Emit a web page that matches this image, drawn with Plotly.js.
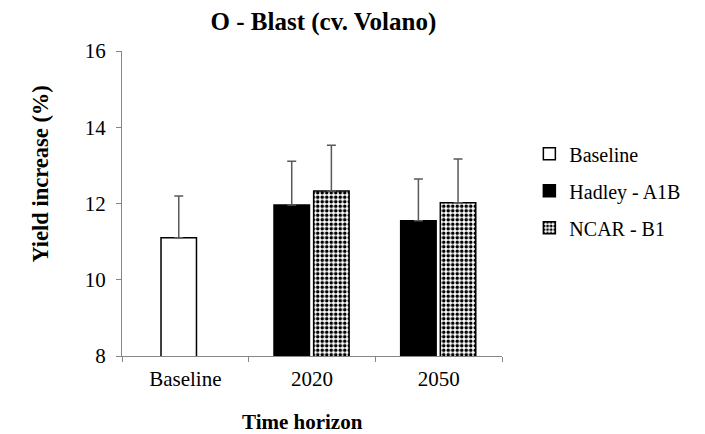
<!DOCTYPE html>
<html>
<head>
<meta charset="utf-8">
<script src="https://cdn.plot.ly/plotly-3.0.1.min.js"></script>
<style>html,body{margin:0;padding:0;background:#fff;}#chart{width:705px;height:434px;}</style>
</head>
<body>
<div id="chart"></div>
<script>
var categories = ['Baseline', '2020', '2050'];
var baselineX = ['Baseline'];
var baselineY = [11.1];
var baselineErr = [1.1];
var scenarioX = ['2020', '2050'];
var hadleyY = [11.96, 11.55];
var hadleyErr = [1.15, 1.09];
var ncarY = [12.33, 12.02];
var ncarErr = [1.2, 1.15];

var serif = "'Liberation Serif', 'Times New Roman', serif";
function err(arr) {
  return {type: 'data', symmetric: false, array: arr, arrayminus: arr.map(function(){return 0;}),
          color: '#595959', thickness: 1.5, width: 4.5};
}
var traces = [
  {type: 'bar', name: 'Baseline', x: baselineX, y: baselineY, width: 0.28, offset: -0.192,
   marker: {color: '#ffffff', line: {color: '#000000', width: 1.5}},
   error_y: err(baselineErr), legendgroup: 'a'},
  {type: 'bar', name: 'Hadley - A1B', x: scenarioX, y: hadleyY, width: 0.28, offset: -0.30,
   marker: {color: '#000000', line: {color: '#000000', width: 1.5}},
   error_y: err(hadleyErr), legendgroup: 'b'},
  {type: 'bar', name: 'NCAR - B1', x: scenarioX, y: ncarY, width: 0.28, offset: 0.013,
   marker: {color: '#ffffff', line: {color: '#000000', width: 1.5},
            pattern: {shape: '.', size: 4.5, solidity: 0.5, fgcolor: '#000000', bgcolor: '#ffffff', fillmode: 'replace'}},
   error_y: err(ncarErr), legendgroup: 'c'}
];
var layout = {
  width: 705, height: 434,
  margin: {l: 122, r: 203, t: 51, b: 78},
  paper_bgcolor: '#ffffff', plot_bgcolor: '#ffffff',
  font: {family: serif, size: 20, color: '#000000'},
  title: {text: '<b>O - Blast (cv. Volano)</b>', font: {family: serif, size: 25, color: '#000000'},
          x: 0.53, xref: 'paper', xanchor: 'center', y: 0.951, yref: 'container', yanchor: 'middle'},
  showlegend: true,
  legend: {x: 1.072, xanchor: 'left', y: 0.727, yanchor: 'top', font: {family: serif, size: 20, color: '#000000'},
           tracegroupgap: 8, bgcolor: 'rgba(0,0,0,0)', traceorder: 'grouped'},
  xaxis: {type: 'category', categoryorder: 'array', categoryarray: categories, range: [-0.5, 2.5],
          showline: true, linecolor: '#868686', linewidth: 1, ticks: 'outside', tickson: 'boundaries',
          ticklen: 5, tickcolor: '#868686', showgrid: false, zeroline: false, ticklabelstandoff: 4,
          tickfont: {family: serif, size: 21, color: '#000000'}},
  yaxis: {range: [8, 16], tickvals: [8, 10, 12, 14, 16], showline: true, linecolor: '#868686', linewidth: 1,
          ticks: 'outside', ticklen: 5, tickcolor: '#868686', showgrid: false, zeroline: false, ticklabelstandoff: 6,
          tickfont: {family: serif, size: 21, color: '#000000'}},
  annotations: [
    {text: '<b>Time horizon</b>', xref: 'paper', yref: 'paper', x: 0.474, y: -0.218,
     xanchor: 'center', yanchor: 'middle', showarrow: false, font: {family: serif, size: 21, color: '#000000'}},
    {text: '<b>Yield increase (%)</b>', xref: 'paper', yref: 'paper', x: -0.214, y: 0.597, textangle: -90,
     xanchor: 'center', yanchor: 'middle', showarrow: false, font: {family: serif, size: 22.5, color: '#000000'}}
  ],
  bargap: 0
};
Plotly.newPlot('chart', traces, layout, {displayModeBar: false, staticPlot: true});
</script>
</body>
</html>
